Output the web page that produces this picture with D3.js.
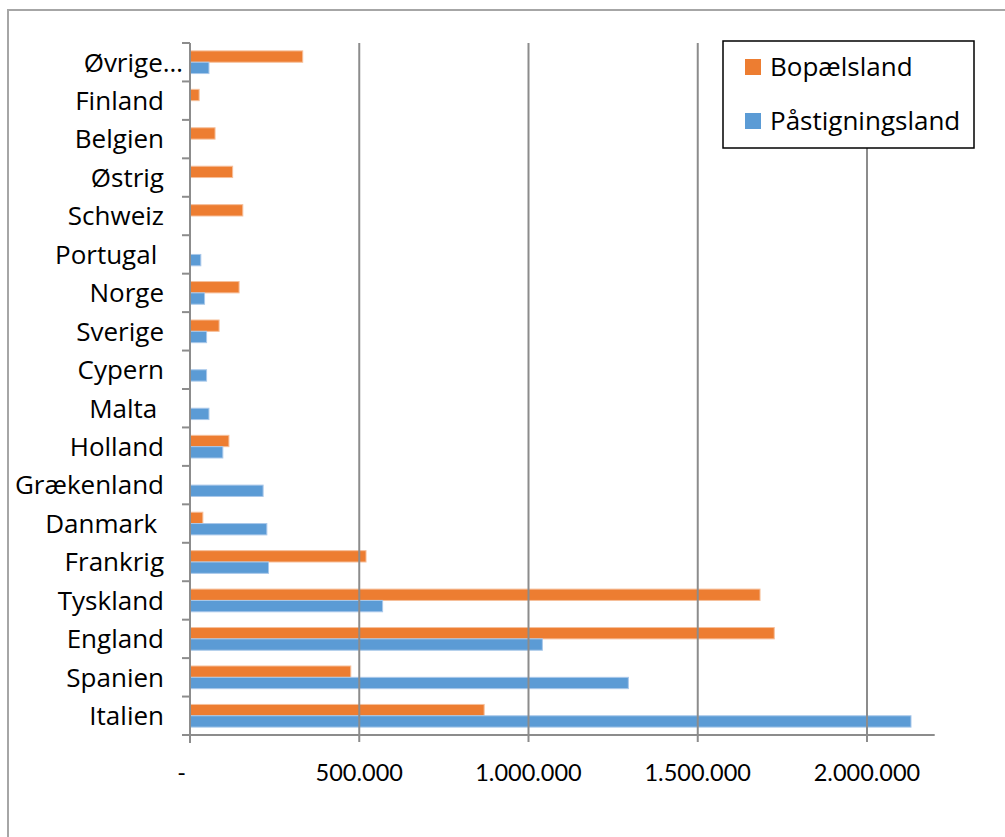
<!DOCTYPE html>
<html>
<head>
<meta charset="utf-8">
<script src="https://cdn.jsdelivr.net/npm/d3@7"></script>
<style>
  html, body { margin: 0; padding: 0; background: #fff; }
  svg { display: block; }
  text { white-space: pre; }
</style>
</head>
<body>
<svg id="chart" width="1005" height="837"></svg>
<script>
// Passengers by country of residence vs. country of boarding
const categories = ["Øvrige…", "Finland", "Belgien", "Østrig", "Schweiz", "Portugal ", "Norge", "Sverige",
  "Cypern", "Malta ", "Holland", "Grækenland", "Danmark ", "Frankrig", "Tyskland", "England", "Spanien", "Italien"];
const seriesNames = ["Bopælsland", "Påstigningsland"];
const bopaelsland = [333000, 27000, 74000, 126000, 156000, 0, 145000, 86000,
  0, 0, 115000, 0, 38000, 520000, 1684000, 1726000, 475000, 869000];
const paastigningsland = [56000, 0, 0, 0, 0, 32000, 43000, 49000,
  49000, 56000, 97000, 216000, 227000, 232000, 569000, 1041000, 1295000, 2130000];
const tickValues = [0, 500000, 1000000, 1500000, 2000000];
const colors = ["#ED7D31", "#5B9BD5"];

const rows = categories.map((c, i) => ({ cat: c, values: [bopaelsland[i], paastigningsland[i]] }));

const svg = d3.select("#chart");
const plot = { left: 190, top: 43, bottom: 735 };
const gridColor = "#8c8c8c";
const labelFont = "Open Sans, sans-serif";
const labelSize = 26;

// chart frame (top and left edges)
svg.append("path")
  .attr("d", "M8,837 V10 H1005")
  .attr("fill", "none").attr("stroke", "#a6a6a6").attr("stroke-width", 2);

const x = d3.scaleLinear().domain([0, 2200000]).range([plot.left, plot.left + 2.2 * 338.5]);
const y = d3.scaleBand().domain(categories).range([plot.top, plot.bottom])
  .paddingInner(0.41).paddingOuter(0.205);
const ySub = d3.scaleBand().domain(seriesNames).range([0, y.bandwidth()]);

// bars
const groups = svg.append("g").selectAll("g").data(rows).join("g")
  .attr("transform", d => `translate(0,${y(d.cat)})`);
groups.selectAll("rect")
  .data(d => d.values.map((v, k) => ({ v, k })).filter(e => e.v > 0))
  .join("rect")
  .attr("x", x(0))
  .attr("y", e => ySub(seriesNames[e.k]))
  .attr("width", e => x(e.v) - x(0))
  .attr("height", ySub.bandwidth())
  .attr("fill", e => colors[e.k])
  .attr("stroke", e => e.k === 0 ? "#f6bf9a" : "#a9c8ea")
  .attr("stroke-width", 1);

// vertical gridlines, with tick marks below the axis
svg.append("g").selectAll("line").data(tickValues.slice(1)).join("line")
  .attr("x1", d => x(d)).attr("x2", d => x(d))
  .attr("y1", plot.top).attr("y2", plot.bottom + 7)
  .attr("stroke", gridColor).attr("stroke-width", 2);

// x axis
const fmt = d3.formatLocale({ decimal: ",", thousands: ".", grouping: [3], currency: ["", ""] }).format(",");
svg.append("line")
  .attr("x1", plot.left - 8).attr("x2", x(2200000))
  .attr("y1", plot.bottom).attr("y2", plot.bottom)
  .attr("stroke", gridColor).attr("stroke-width", 2);
svg.append("g").selectAll("text").data(tickValues).join("text")
  .attr("x", d => x(d)).attr("y", 781)
  .attr("text-anchor", d => d === 0 ? "end" : "middle")
  .attr("dx", d => d === 0 ? -4 : 0)
  .attr("font-family", "Lato, sans-serif").attr("font-size", 23.5).attr("fill", "#000")
  .text(d => d === 0 ? "-" : fmt(d));

// y axis line and category ticks
svg.append("line")
  .attr("x1", plot.left).attr("x2", plot.left)
  .attr("y1", plot.top).attr("y2", plot.bottom + 8)
  .attr("stroke", gridColor).attr("stroke-width", 2);
const boundaries = categories.map(c => y(c) - y.step() * y.paddingInner() / 2);
svg.append("g").selectAll("line").data(boundaries).join("line")
  .attr("x1", plot.left - 8).attr("x2", plot.left)
  .attr("y1", d => d).attr("y2", d => d)
  .attr("stroke", gridColor).attr("stroke-width", 2);

// category labels
svg.append("g").selectAll("text").data(categories).join("text")
  .attr("x", d => d.endsWith("…") ? 183 : 164)
  .attr("y", d => y(d) + y.bandwidth() / 2)
  .attr("dy", "0.36em")
  .attr("text-anchor", "end")
  .attr("font-family", labelFont).attr("font-size", labelSize).attr("fill", "#000")
  .text(d => d);

// legend
const legend = svg.append("g");
legend.append("rect")
  .attr("x", 723).attr("y", 41).attr("width", 251).attr("height", 107)
  .attr("fill", "#fff").attr("stroke", "#000").attr("stroke-width", 1.5);
seriesNames.forEach((name, k) => {
  const cy = 67 + k * 54;
  legend.append("rect")
    .attr("x", 745).attr("y", cy - 8).attr("width", 16).attr("height", 16)
    .attr("fill", colors[k]);
  legend.append("text")
    .attr("x", 770).attr("y", cy).attr("dy", "0.36em")
    .attr("font-family", labelFont).attr("font-size", labelSize).attr("fill", "#000")
    .text(name);
});
</script>
</body>
</html>
